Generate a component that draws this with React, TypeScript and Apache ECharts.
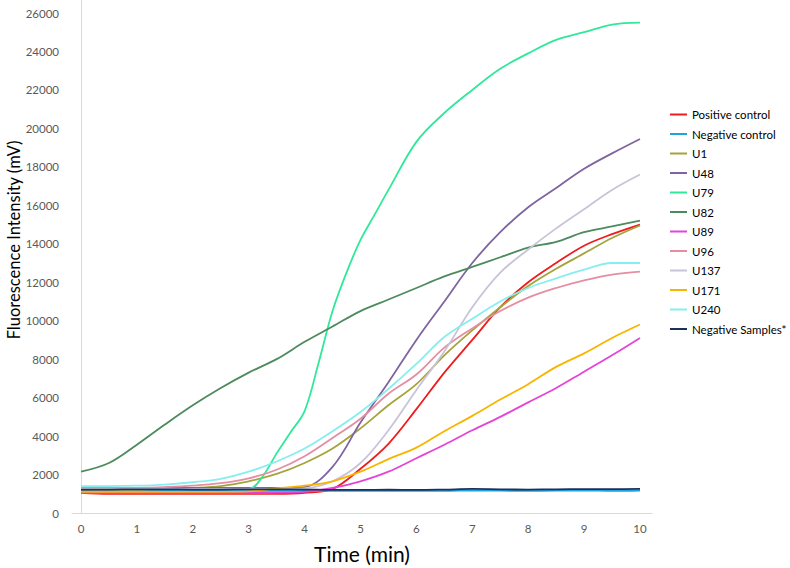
import React, { useEffect, useRef } from "react";
import * as echarts from "echarts";

const TIME = [0, 0.5, 1, 1.5, 2, 2.5, 3, 3.5, 4, 4.5, 5, 5.5, 6, 6.5, 7, 7.5, 8, 8.5, 9, 9.5, 10];
const TIME_U79 = [0, 1, 2, 3, 3.25, 3.5, 3.75, 4, 4.25, 4.5, 4.75, 5, 5.25, 5.5, 6, 6.5, 7, 7.5, 8, 8.5, 9, 9.5, 10];
const X_TICKS = [0, 1, 2, 3, 4, 5, 6, 7, 8, 9, 10];
const Y_TICKS = [0, 2000, 4000, 6000, 8000, 10000, 12000, 14000, 16000, 18000, 20000, 22000, 24000, 26000];

const POS = [1050, 1000, 1000, 1000, 1000, 1000, 1000, 1000, 1050, 1250, 2300, 3600, 5400, 7300, 9000, 10700, 12000, 13000, 13900, 14500, 15000];
const NEGC = [1150, 1140, 1140, 1150, 1150, 1150, 1150, 1150, 1150, 1150, 1150, 1160, 1150, 1150, 1170, 1160, 1150, 1160, 1170, 1150, 1170];
const U1 = [1200, 1200, 1210, 1240, 1300, 1400, 1650, 2030, 2600, 3350, 4400, 5600, 6700, 8200, 9500, 10700, 11800, 12700, 13500, 14300, 14950];
const U48 = [1300, 1300, 1300, 1300, 1300, 1300, 1300, 1300, 1350, 2400, 4700, 6800, 9000, 11000, 13000, 14600, 15900, 16900, 17900, 18700, 19450];
const U79 = [1250, 1250, 1250, 1250, 1900, 3100, 4200, 5300, 7800, 10500, 12500, 14200, 15500, 16800, 19300, 20800, 22000, 23100, 23900, 24600, 25000, 25400, 25500];
const U82 = [2150, 2600, 3550, 4600, 5600, 6500, 7300, 8000, 8900, 9700, 10500, 11100, 11700, 12300, 12800, 13300, 13800, 14100, 14600, 14900, 15200];
const U89 = [1050, 1050, 1050, 1050, 1050, 1050, 1050, 1060, 1100, 1300, 1650, 2150, 2850, 3550, 4300, 5000, 5750, 6500, 7350, 8200, 9100];
const U96 = [1300, 1300, 1310, 1350, 1420, 1550, 1800, 2250, 2950, 3900, 4900, 6200, 7200, 8600, 9600, 10500, 11200, 11700, 12100, 12400, 12550];
const U137 = [1250, 1250, 1250, 1250, 1250, 1250, 1250, 1250, 1280, 1650, 2600, 4300, 6400, 8400, 10700, 12500, 13700, 14800, 15800, 16800, 17600];
const U171 = [1100, 1100, 1100, 1100, 1100, 1100, 1120, 1280, 1420, 1650, 2150, 2800, 3400, 4250, 5050, 5900, 6700, 7600, 8300, 9100, 9800];
const U240 = [1400, 1400, 1420, 1480, 1600, 1780, 2150, 2680, 3350, 4250, 5250, 6450, 7750, 9150, 10100, 11000, 11700, 12200, 12650, 13000, 13000];
const NEGS = [1220, 1220, 1230, 1230, 1220, 1220, 1230, 1230, 1220, 1200, 1200, 1210, 1200, 1220, 1250, 1230, 1220, 1230, 1240, 1240, 1250];

const SERIES_NAMES = ["Positive control", "Negative control", "U1", "U48", "U79", "U82", "U89", "U96", "U137", "U171", "U240", "Negative Samples*"];
const SERIES_VALUES = [POS, NEGC, U1, U48, U79, U82, U89, U96, U137, U171, U240, NEGS];
const SERIES_TIMES = [TIME, TIME, TIME, TIME, TIME_U79, TIME, TIME, TIME, TIME, TIME, TIME, TIME];
const SERIES_COLORS = ["#ee1c1c", "#1fa3dc", "#a4a43d", "#7f659f", "#30e89a", "#4d8a5e", "#e445d8", "#e58da3", "#c9c3d9", "#f7b500", "#86eeee", "#1d2f5e"];

const FONT = "Lato, 'Liberation Sans', sans-serif";

export default function App() {
  const ref = useRef<HTMLDivElement>(null);
  useEffect(() => {
    if (!ref.current) return;
    const chart = echarts.init(ref.current, undefined, { renderer: "svg" });
    const series = SERIES_NAMES.map((name, i) => ({
      name,
      type: "line",
      data: SERIES_TIMES[i].map((t, j) => [t, SERIES_VALUES[i][j]]),
      smooth: 0.35,
      symbol: "none",
      lineStyle: { width: 1.8, color: SERIES_COLORS[i] },
      itemStyle: { color: SERIES_COLORS[i] },
    }));
    chart.setOption({
      animation: false,
      backgroundColor: "#ffffff",
      textStyle: { fontFamily: FONT },
      grid: { left: 72, right: 138, top: 0, bottom: 55, containLabel: false, outerBoundsMode: "none" },
      xAxis: {
        type: "value",
        min: -0.161,
        max: 10.215,
        name: "Time (min)",
        nameLocation: "middle",
        nameGap: 30,
        nameTextStyle: { fontSize: 21, color: "#000", fontFamily: FONT },
        axisLine: { show: true, lineStyle: { color: "#d9d9d9", width: 1 } },
        axisTick: { show: false },
        splitLine: { show: false },
        axisLabel: {
          customValues: X_TICKS,
          fontSize: 11.5,
          color: "#595959",
          margin: 9,
          fontFamily: FONT,
        },
      },
      yAxis: {
        type: "value",
        min: 0,
        max: 26676,
        axisLine: { show: true, lineStyle: { color: "#d9d9d9", width: 1 } },
        axisTick: { show: false },
        splitLine: { show: false },
        axisLabel: {
          customValues: Y_TICKS,
          formatter: (v: number) => String(v),
          fontSize: 11.5,
          color: "#595959",
          margin: 13,
          fontFamily: FONT,
        },
      },
      graphic: [
        {
          type: "text",
          x: 14,
          y: 240,
          rotation: Math.PI / 2,
          style: {
            text: "Fluorescence Intensity (mV)",
            fontSize: 16.5,
            fontFamily: FONT,
            fill: "#000",
            align: "center",
            verticalAlign: "middle",
          },
        },
      ],
      legend: {
        orient: "vertical",
        left: 665,
        top: 103,
        itemWidth: 17,
        itemHeight: 12,
        itemGap: 6.5,
        icon: "path://M0,0 L17,0 L17,2 L0,2 Z",
        textStyle: { fontSize: 11.5, color: "#000", fontFamily: FONT, lineHeight: 13 },
        data: SERIES_NAMES,
      },
      series,
    });
    return () => chart.dispose();
  }, []);
  return <div ref={ref} style={{ width: 790, height: 568, position: "absolute", left: 0, top: 0 }} />;
}
